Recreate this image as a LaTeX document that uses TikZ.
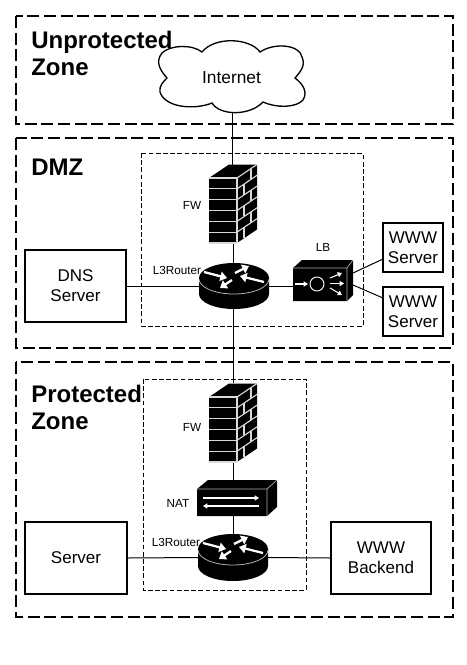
\documentclass[tikz,border=0pt]{standalone}
\usepackage{fontspec}
\setmainfont{Liberation Sans}
\usetikzlibrary{arrows.meta}
\tikzset{
  x=0.75pt,y=-0.75pt,
  zone/.style={draw,line width=1.2pt,dash pattern=on 9pt off 3.5pt},
  inner zone/.style={draw,line width=0.55pt,dash pattern=on 3.6pt off 1.8pt},
  wire/.style={draw,line width=0.75pt},
  boxnode/.style={draw,line width=1.5pt,fill=white,align=center,inner sep=0pt,font=\fontsize{12.75}{15}\selectfont},
  anchorbox/.style={inner sep=0pt,outer sep=0pt},
  title/.style={anchor=west,align=left,inner sep=0pt,font=\fontsize{18}{20.25}\selectfont\bfseries},
  small/.style={inner sep=0pt,font=\fontsize{8.8}{10}\selectfont},
  brick/.style={draw=black!15,line width=0.85pt},
  warrow/.style={white,line width=1.7pt,-{Triangle[length=5pt,width=7pt]}},
  thinarrow/.style={white,line width=0.8pt,-{Triangle[length=3.2pt,width=3.8pt]}},
}
\newcommand{\fwicon}[2]{%
  \begin{scope}[shift={(#1,#2)}]
    \fill[black] (0,0)--(20,-13.5)--(48,-13.5)--(48,51.5)--(28,65)--(0,65)--cycle;
    \foreach \r in {1,...,5}{\draw[brick] (0,{\r*65/6})--(28,{\r*65/6});}
    \draw[brick] (0,65)--(28,65) (0,0)--(28,0);
    \foreach \r in {0,...,5}{\draw[brick] (28,{\r*65/6})--(48,{\r*65/6-13.5});}
    \draw[brick] (28,0)--(28,65);
    \foreach \r in {0,2,4}{\draw[brick] (42,{\r*65/6-9.5})--(42,{(\r+1)*65/6-9.5});}
    \foreach \r in {1,3,5}{\draw[brick] (35,{\r*65/6-5})--(35,{(\r+1)*65/6-5});}
  \end{scope}}
\newcommand{\rticon}[3]{% centre x, top-ellipse y, bottom-ellipse y
  \begin{scope}[shift={(#1,#2)}]
    \fill[black] (-35,0) -- (-35,#3-#2) arc[start angle=180,end angle=360,x radius=35,y radius=-15] -- (35,0) -- cycle;
    \fill[black] (0,0) ellipse[x radius=35,y radius=15];
    \draw[black!30,line width=0.6pt] (-35,1) arc[start angle=180,end angle=360,x radius=35,y radius=-15];
    \draw[warrow] (-30,-6)--(-7,0);
    \draw[warrow] (1,-5)--(15,-12);
    \draw[warrow] (30,4)--(6,-2);
    \draw[warrow] (-2,2)--(-14,10);
  \end{scope}}
\begin{document}
\begin{tikzpicture}
\useasboundingbox (0,0) rectangle (467,665);
\fill[white] (0,0) rectangle (467,665);
% zones
\draw[zone] (16,16) rectangle (453,124);
\draw[zone] (16,138) rectangle (453,348);
\draw[zone] (16,362) rectangle (453,617);
\draw[inner zone] (141,153) rectangle (363,326);
\draw[inner zone] (143,379) rectangle (306,590);
% named places for the devices
\node[anchorbox,minimum width=109.5pt,minimum height=46.5pt] (internet) at (232.5,81) {};
\node[anchorbox,minimum width=36pt,minimum height=58.5pt] (fwa) at (232.5,204) {};
\node[anchorbox,minimum width=52.5pt,minimum height=34.5pt] (rta) at (233.5,286) {};
\node[anchorbox,minimum width=36pt,minimum height=59pt] (fwb) at (233.5,422.5) {};
\node[anchorbox,minimum width=60pt,minimum height=27pt] (nat) at (237,498) {};
\node[anchorbox,minimum width=52.5pt,minimum height=35.25pt] (rtb) at (233,557.5) {};
\coordinate (lbin) at (293,286);
\coordinate (lbouta) at (353,273);
\coordinate (lboutb) at (353,285);
\coordinate (wwwina) at (383,259);
\coordinate (wwwinb) at (383,298);
\coordinate (rtain) at (199,286);
\node[boxnode,minimum width=75.75pt,minimum height=54pt] (dns) at (75.5,286) {DNS\\Server};
\node[boxnode,minimum width=45pt,minimum height=36.75pt] (wwwa) at (413,247.5) {WWW\\Server};
\node[boxnode,minimum width=45pt,minimum height=36.75pt] (wwwb) at (413,311.5) {WWW\\Server};
\node[boxnode,minimum width=76.5pt,minimum height=54pt] (server) at (76,558) {Server};
\node[boxnode,minimum width=75pt,minimum height=54pt] (backend) at (381,558) {WWW\\Backend};
% connectors
\draw[wire] (internet.south) -- (fwa.north);
\draw[wire] (rta.north |- fwa.south) -- (rta.north);
\draw[wire] (rta.south) -- (fwb.north);
\draw[wire] (fwb.south) -- (fwb.south |- nat.north);
\draw[wire] (fwb.south |- nat.south) -- (fwb.south |- rtb.north);
\draw[wire] (dns.east) -- (rtain);
\draw[wire] (rta.east) -- (lbin);
\draw[wire] (lbouta) -- (wwwina);
\draw[wire] (lboutb) -- (wwwinb);
\draw[wire] (server.east) -- (rtb.west);
\draw[wire] (rtb.east) -- (backend.west);
% cloud
\draw[line width=1pt,fill=white]
  (162,53) .. controls (170,45) and (192,44) .. (202,52)
  .. controls (215,36) and (250,38) .. (260,52)
  .. controls (275,42) and (300,45) .. (302,57)
  .. controls (306,66) and (300,72) .. (295,78)
  .. controls (303,84) and (308,92) .. (303,100)
  .. controls (296,108) and (276,108) .. (263,102)
  .. controls (250,116) and (220,116) .. (212,103)
  .. controls (195,110) and (165,108) .. (160,92)
  .. controls (159,86) and (163,82) .. (167,78)
  .. controls (160,70) and (155,62) .. (162,53) -- cycle;
\node[inner sep=0pt,font=\fontsize{13}{15}\selectfont] (internetlabel) at (231.5,78) {Internet};
% devices
\fwicon{209}{178}
\fwicon{209}{397}
\rticon{234}{278}{294}
\rticon{233}{549}{566}
% LB
\fill[black] (293,268)--(302,260)--(353,260)--(353,295)--(347,301)--(293,301)--cycle;
\draw[black!30,line width=0.5pt] (347,268)--(347,301) (347,268)--(353,260) (293,268)--(347,268);
\draw[white,line width=0.7pt] (317,284) circle[radius=7];
\draw[thinarrow] (295,284)--(308,284);
\draw[thinarrow] (330,278)--(342,273);
\draw[thinarrow] (330,283.5)--(344,283.5);
\draw[thinarrow] (330,288)--(342,295);
% NAT
\fill[black] (197,489)--(208,480)--(277,480)--(277,507)--(267,516)--(197,516)--cycle;
\draw[black!30,line width=0.5pt] (267,489)--(267,516) (267,489)--(277,480) (197,489)--(267,489);
\draw[thinarrow] (203,498)--(259,498);
\draw[thinarrow] (259,506)--(203,506);
% labels
\node[small] (fwalabel) at (192,205) {FW};
\node[small] (lblabel) at (323,247) {LB};
\node[small] (rtalabel) at (177,270) {L3Router};
\node[small] (fwblabel) at (192,427) {FW};
\node[small] (natlabel) at (178,503) {NAT};
\node[small] (rtblabel) at (176,542) {L3Router};
\node[title] (zonea) at (31,53) {Unprotected\\Zone};
\node[title] (zoneb) at (31,167) {DMZ};
\node[title] (zonec) at (31,407) {Protected\\Zone};
\end{tikzpicture}
\end{document}
